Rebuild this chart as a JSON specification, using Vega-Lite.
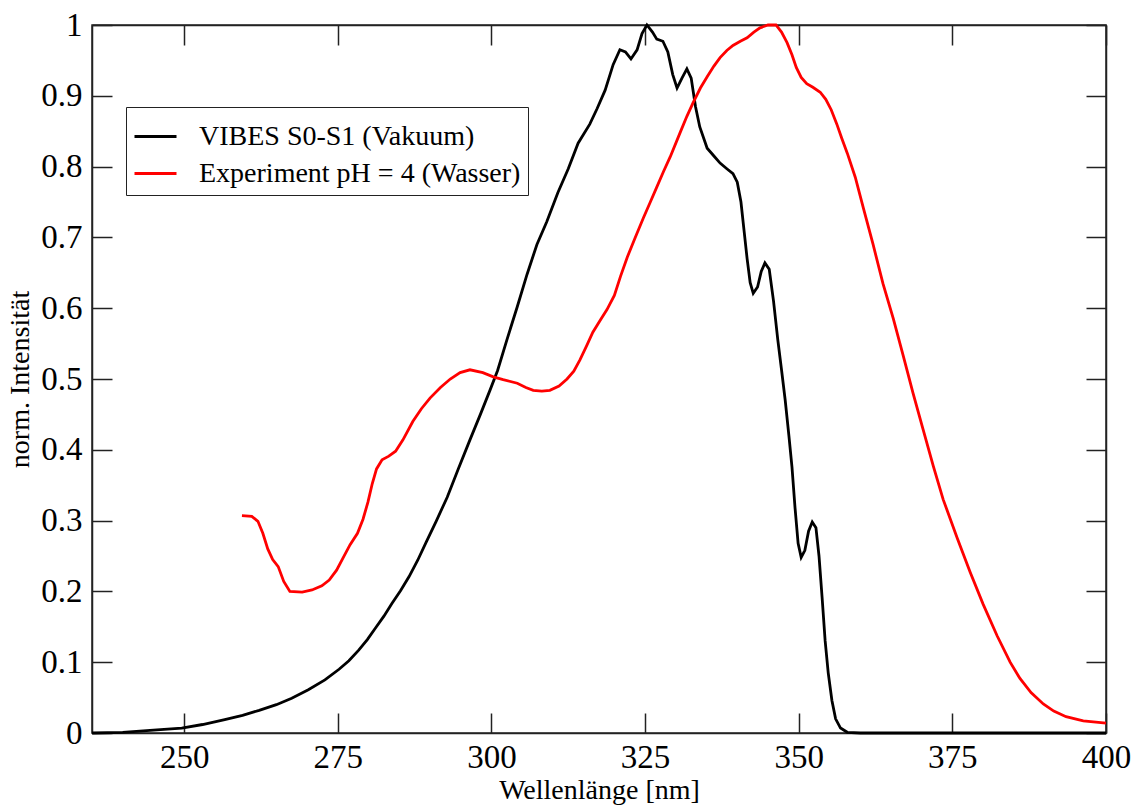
{
  "$schema": "https://vega.github.io/schema/vega-lite/v6.json",
  "width": 1014,
  "height": 708,
  "autosize": {"type": "none"},
  "padding": {"left": 92, "top": 25, "right": 29, "bottom": 72},
  "background": "white",
  "config": {
    "font": "Liberation Serif",
    "view": {"stroke": "#222", "strokeWidth": 1.5},
    "axis": {
      "grid": false,
      "domainColor": "#222",
      "domainWidth": 1.5,
      "tickColor": "#222",
      "tickWidth": 1.5,
      "tickSize": -20,
      "labelFont": "Liberation Serif",
      "labelFontSize": 33,
      "labelColor": "#000",
      "labelFlush": false,
      "labelOverlap": false,
      "titleFont": "Liberation Serif",
      "titleFontSize": 28,
      "titleFontWeight": "normal",
      "titleColor": "#000"
    },
    "style": {"guide-label": {"font": "Liberation Serif"}}
  },
  "data": {
    "values": [
      {"series": "VIBES S0-S1 (Vakuum)", "wl": 235, "I": 0.0},
      {"series": "VIBES S0-S1 (Vakuum)", "wl": 240, "I": 0.001},
      {"series": "VIBES S0-S1 (Vakuum)", "wl": 245, "I": 0.004},
      {"series": "VIBES S0-S1 (Vakuum)", "wl": 249.6, "I": 0.007},
      {"series": "VIBES S0-S1 (Vakuum)", "wl": 253, "I": 0.012},
      {"series": "VIBES S0-S1 (Vakuum)", "wl": 256.6, "I": 0.019},
      {"series": "VIBES S0-S1 (Vakuum)", "wl": 259.5, "I": 0.025},
      {"series": "VIBES S0-S1 (Vakuum)", "wl": 262.2, "I": 0.032},
      {"series": "VIBES S0-S1 (Vakuum)", "wl": 265, "I": 0.04},
      {"series": "VIBES S0-S1 (Vakuum)", "wl": 267.5, "I": 0.049},
      {"series": "VIBES S0-S1 (Vakuum)", "wl": 270.2, "I": 0.061},
      {"series": "VIBES S0-S1 (Vakuum)", "wl": 272.9, "I": 0.075},
      {"series": "VIBES S0-S1 (Vakuum)", "wl": 275.2, "I": 0.09},
      {"series": "VIBES S0-S1 (Vakuum)", "wl": 276.8, "I": 0.102},
      {"series": "VIBES S0-S1 (Vakuum)", "wl": 278.4, "I": 0.117},
      {"series": "VIBES S0-S1 (Vakuum)", "wl": 279.8, "I": 0.132},
      {"series": "VIBES S0-S1 (Vakuum)", "wl": 281.1, "I": 0.148},
      {"series": "VIBES S0-S1 (Vakuum)", "wl": 282.5, "I": 0.165},
      {"series": "VIBES S0-S1 (Vakuum)", "wl": 283.8, "I": 0.183},
      {"series": "VIBES S0-S1 (Vakuum)", "wl": 285.2, "I": 0.201},
      {"series": "VIBES S0-S1 (Vakuum)", "wl": 286.6, "I": 0.221},
      {"series": "VIBES S0-S1 (Vakuum)", "wl": 288.0, "I": 0.244},
      {"series": "VIBES S0-S1 (Vakuum)", "wl": 289.4, "I": 0.27},
      {"series": "VIBES S0-S1 (Vakuum)", "wl": 291.0, "I": 0.299},
      {"series": "VIBES S0-S1 (Vakuum)", "wl": 292.8, "I": 0.333},
      {"series": "VIBES S0-S1 (Vakuum)", "wl": 294.6, "I": 0.373},
      {"series": "VIBES S0-S1 (Vakuum)", "wl": 296.5, "I": 0.414},
      {"series": "VIBES S0-S1 (Vakuum)", "wl": 298.2, "I": 0.45},
      {"series": "VIBES S0-S1 (Vakuum)", "wl": 299.8, "I": 0.485},
      {"series": "VIBES S0-S1 (Vakuum)", "wl": 301.0, "I": 0.512},
      {"series": "VIBES S0-S1 (Vakuum)", "wl": 302.5, "I": 0.555},
      {"series": "VIBES S0-S1 (Vakuum)", "wl": 304.2, "I": 0.602},
      {"series": "VIBES S0-S1 (Vakuum)", "wl": 305.8, "I": 0.648},
      {"series": "VIBES S0-S1 (Vakuum)", "wl": 307.4, "I": 0.69},
      {"series": "VIBES S0-S1 (Vakuum)", "wl": 309.0, "I": 0.722},
      {"series": "VIBES S0-S1 (Vakuum)", "wl": 310.8, "I": 0.763},
      {"series": "VIBES S0-S1 (Vakuum)", "wl": 312.5, "I": 0.797},
      {"series": "VIBES S0-S1 (Vakuum)", "wl": 314.1, "I": 0.833},
      {"series": "VIBES S0-S1 (Vakuum)", "wl": 316.0, "I": 0.86},
      {"series": "VIBES S0-S1 (Vakuum)", "wl": 317.2, "I": 0.882},
      {"series": "VIBES S0-S1 (Vakuum)", "wl": 318.5, "I": 0.908},
      {"series": "VIBES S0-S1 (Vakuum)", "wl": 319.8, "I": 0.944},
      {"series": "VIBES S0-S1 (Vakuum)", "wl": 320.9, "I": 0.965},
      {"series": "VIBES S0-S1 (Vakuum)", "wl": 321.8, "I": 0.962},
      {"series": "VIBES S0-S1 (Vakuum)", "wl": 322.7, "I": 0.952},
      {"series": "VIBES S0-S1 (Vakuum)", "wl": 323.7, "I": 0.965},
      {"series": "VIBES S0-S1 (Vakuum)", "wl": 324.5, "I": 0.988},
      {"series": "VIBES S0-S1 (Vakuum)", "wl": 325.3, "I": 1.0},
      {"series": "VIBES S0-S1 (Vakuum)", "wl": 326.2, "I": 0.99},
      {"series": "VIBES S0-S1 (Vakuum)", "wl": 326.9, "I": 0.98},
      {"series": "VIBES S0-S1 (Vakuum)", "wl": 327.9, "I": 0.977},
      {"series": "VIBES S0-S1 (Vakuum)", "wl": 328.7, "I": 0.962},
      {"series": "VIBES S0-S1 (Vakuum)", "wl": 329.5, "I": 0.93},
      {"series": "VIBES S0-S1 (Vakuum)", "wl": 330.2, "I": 0.911},
      {"series": "VIBES S0-S1 (Vakuum)", "wl": 331.0, "I": 0.925},
      {"series": "VIBES S0-S1 (Vakuum)", "wl": 331.8, "I": 0.938},
      {"series": "VIBES S0-S1 (Vakuum)", "wl": 332.5, "I": 0.925},
      {"series": "VIBES S0-S1 (Vakuum)", "wl": 333.2, "I": 0.885},
      {"series": "VIBES S0-S1 (Vakuum)", "wl": 333.9, "I": 0.856},
      {"series": "VIBES S0-S1 (Vakuum)", "wl": 335.1, "I": 0.826},
      {"series": "VIBES S0-S1 (Vakuum)", "wl": 336.2, "I": 0.815},
      {"series": "VIBES S0-S1 (Vakuum)", "wl": 337.2, "I": 0.805},
      {"series": "VIBES S0-S1 (Vakuum)", "wl": 338.3, "I": 0.797},
      {"series": "VIBES S0-S1 (Vakuum)", "wl": 339.3, "I": 0.79},
      {"series": "VIBES S0-S1 (Vakuum)", "wl": 340.0, "I": 0.778},
      {"series": "VIBES S0-S1 (Vakuum)", "wl": 340.6, "I": 0.75},
      {"series": "VIBES S0-S1 (Vakuum)", "wl": 341.1, "I": 0.71},
      {"series": "VIBES S0-S1 (Vakuum)", "wl": 341.6, "I": 0.67},
      {"series": "VIBES S0-S1 (Vakuum)", "wl": 342.1, "I": 0.636},
      {"series": "VIBES S0-S1 (Vakuum)", "wl": 342.6, "I": 0.621},
      {"series": "VIBES S0-S1 (Vakuum)", "wl": 343.3, "I": 0.63},
      {"series": "VIBES S0-S1 (Vakuum)", "wl": 343.9, "I": 0.652},
      {"series": "VIBES S0-S1 (Vakuum)", "wl": 344.5, "I": 0.664},
      {"series": "VIBES S0-S1 (Vakuum)", "wl": 345.2, "I": 0.655},
      {"series": "VIBES S0-S1 (Vakuum)", "wl": 345.9, "I": 0.61},
      {"series": "VIBES S0-S1 (Vakuum)", "wl": 346.6, "I": 0.555},
      {"series": "VIBES S0-S1 (Vakuum)", "wl": 347.2, "I": 0.513},
      {"series": "VIBES S0-S1 (Vakuum)", "wl": 347.8, "I": 0.47},
      {"series": "VIBES S0-S1 (Vakuum)", "wl": 348.4, "I": 0.42},
      {"series": "VIBES S0-S1 (Vakuum)", "wl": 348.9, "I": 0.376},
      {"series": "VIBES S0-S1 (Vakuum)", "wl": 349.4, "I": 0.318},
      {"series": "VIBES S0-S1 (Vakuum)", "wl": 349.9, "I": 0.268},
      {"series": "VIBES S0-S1 (Vakuum)", "wl": 350.4, "I": 0.248},
      {"series": "VIBES S0-S1 (Vakuum)", "wl": 351.0, "I": 0.258},
      {"series": "VIBES S0-S1 (Vakuum)", "wl": 351.6, "I": 0.285},
      {"series": "VIBES S0-S1 (Vakuum)", "wl": 352.2, "I": 0.298},
      {"series": "VIBES S0-S1 (Vakuum)", "wl": 352.8, "I": 0.29},
      {"series": "VIBES S0-S1 (Vakuum)", "wl": 353.3, "I": 0.25},
      {"series": "VIBES S0-S1 (Vakuum)", "wl": 353.8, "I": 0.192},
      {"series": "VIBES S0-S1 (Vakuum)", "wl": 354.3, "I": 0.13},
      {"series": "VIBES S0-S1 (Vakuum)", "wl": 354.8, "I": 0.085},
      {"series": "VIBES S0-S1 (Vakuum)", "wl": 355.4, "I": 0.046},
      {"series": "VIBES S0-S1 (Vakuum)", "wl": 356.0, "I": 0.02},
      {"series": "VIBES S0-S1 (Vakuum)", "wl": 356.8, "I": 0.007},
      {"series": "VIBES S0-S1 (Vakuum)", "wl": 357.9, "I": 0.001},
      {"series": "VIBES S0-S1 (Vakuum)", "wl": 360, "I": 0.0},
      {"series": "VIBES S0-S1 (Vakuum)", "wl": 400, "I": 0.0},
      {"series": "Experiment pH = 4 (Wasser)", "wl": 259.4, "I": 0.307},
      {"series": "Experiment pH = 4 (Wasser)", "wl": 261.0, "I": 0.306},
      {"series": "Experiment pH = 4 (Wasser)", "wl": 262.0, "I": 0.299},
      {"series": "Experiment pH = 4 (Wasser)", "wl": 262.8, "I": 0.282},
      {"series": "Experiment pH = 4 (Wasser)", "wl": 263.6, "I": 0.26},
      {"series": "Experiment pH = 4 (Wasser)", "wl": 264.4, "I": 0.245},
      {"series": "Experiment pH = 4 (Wasser)", "wl": 265.3, "I": 0.235},
      {"series": "Experiment pH = 4 (Wasser)", "wl": 266.2, "I": 0.214},
      {"series": "Experiment pH = 4 (Wasser)", "wl": 267.2, "I": 0.2},
      {"series": "Experiment pH = 4 (Wasser)", "wl": 269.2, "I": 0.199},
      {"series": "Experiment pH = 4 (Wasser)", "wl": 270.8, "I": 0.202},
      {"series": "Experiment pH = 4 (Wasser)", "wl": 272.4, "I": 0.208},
      {"series": "Experiment pH = 4 (Wasser)", "wl": 273.6, "I": 0.216},
      {"series": "Experiment pH = 4 (Wasser)", "wl": 274.8, "I": 0.23},
      {"series": "Experiment pH = 4 (Wasser)", "wl": 275.9, "I": 0.248},
      {"series": "Experiment pH = 4 (Wasser)", "wl": 277.0, "I": 0.266},
      {"series": "Experiment pH = 4 (Wasser)", "wl": 278.2, "I": 0.282},
      {"series": "Experiment pH = 4 (Wasser)", "wl": 279.1, "I": 0.302},
      {"series": "Experiment pH = 4 (Wasser)", "wl": 279.9, "I": 0.326},
      {"series": "Experiment pH = 4 (Wasser)", "wl": 280.6, "I": 0.352},
      {"series": "Experiment pH = 4 (Wasser)", "wl": 281.3, "I": 0.373},
      {"series": "Experiment pH = 4 (Wasser)", "wl": 282.2, "I": 0.386},
      {"series": "Experiment pH = 4 (Wasser)", "wl": 283.3, "I": 0.391},
      {"series": "Experiment pH = 4 (Wasser)", "wl": 284.4, "I": 0.398},
      {"series": "Experiment pH = 4 (Wasser)", "wl": 285.6, "I": 0.414},
      {"series": "Experiment pH = 4 (Wasser)", "wl": 287.2, "I": 0.44},
      {"series": "Experiment pH = 4 (Wasser)", "wl": 288.6, "I": 0.458},
      {"series": "Experiment pH = 4 (Wasser)", "wl": 290.0, "I": 0.473},
      {"series": "Experiment pH = 4 (Wasser)", "wl": 291.7, "I": 0.488},
      {"series": "Experiment pH = 4 (Wasser)", "wl": 293.3, "I": 0.5},
      {"series": "Experiment pH = 4 (Wasser)", "wl": 294.9, "I": 0.509},
      {"series": "Experiment pH = 4 (Wasser)", "wl": 296.5, "I": 0.513},
      {"series": "Experiment pH = 4 (Wasser)", "wl": 298.6, "I": 0.509},
      {"series": "Experiment pH = 4 (Wasser)", "wl": 300.3, "I": 0.503},
      {"series": "Experiment pH = 4 (Wasser)", "wl": 301.9, "I": 0.499},
      {"series": "Experiment pH = 4 (Wasser)", "wl": 304.2, "I": 0.494},
      {"series": "Experiment pH = 4 (Wasser)", "wl": 305.6, "I": 0.488},
      {"series": "Experiment pH = 4 (Wasser)", "wl": 306.8, "I": 0.484},
      {"series": "Experiment pH = 4 (Wasser)", "wl": 308.2, "I": 0.483},
      {"series": "Experiment pH = 4 (Wasser)", "wl": 309.5, "I": 0.484},
      {"series": "Experiment pH = 4 (Wasser)", "wl": 311.0, "I": 0.49},
      {"series": "Experiment pH = 4 (Wasser)", "wl": 312.3, "I": 0.5},
      {"series": "Experiment pH = 4 (Wasser)", "wl": 313.4, "I": 0.511},
      {"series": "Experiment pH = 4 (Wasser)", "wl": 314.4, "I": 0.527},
      {"series": "Experiment pH = 4 (Wasser)", "wl": 315.5, "I": 0.547},
      {"series": "Experiment pH = 4 (Wasser)", "wl": 316.5, "I": 0.566},
      {"series": "Experiment pH = 4 (Wasser)", "wl": 317.7, "I": 0.583},
      {"series": "Experiment pH = 4 (Wasser)", "wl": 318.8, "I": 0.598},
      {"series": "Experiment pH = 4 (Wasser)", "wl": 320.0, "I": 0.618},
      {"series": "Experiment pH = 4 (Wasser)", "wl": 321.0, "I": 0.645},
      {"series": "Experiment pH = 4 (Wasser)", "wl": 322.1, "I": 0.672},
      {"series": "Experiment pH = 4 (Wasser)", "wl": 323.4, "I": 0.7},
      {"series": "Experiment pH = 4 (Wasser)", "wl": 324.7, "I": 0.727},
      {"series": "Experiment pH = 4 (Wasser)", "wl": 325.8, "I": 0.749},
      {"series": "Experiment pH = 4 (Wasser)", "wl": 326.9, "I": 0.771},
      {"series": "Experiment pH = 4 (Wasser)", "wl": 328.0, "I": 0.793},
      {"series": "Experiment pH = 4 (Wasser)", "wl": 329.1, "I": 0.814},
      {"series": "Experiment pH = 4 (Wasser)", "wl": 330.7, "I": 0.848},
      {"series": "Experiment pH = 4 (Wasser)", "wl": 331.8, "I": 0.871},
      {"series": "Experiment pH = 4 (Wasser)", "wl": 332.8, "I": 0.89},
      {"series": "Experiment pH = 4 (Wasser)", "wl": 334.0, "I": 0.911},
      {"series": "Experiment pH = 4 (Wasser)", "wl": 335.1, "I": 0.927},
      {"series": "Experiment pH = 4 (Wasser)", "wl": 336.2, "I": 0.942},
      {"series": "Experiment pH = 4 (Wasser)", "wl": 337.2, "I": 0.954},
      {"series": "Experiment pH = 4 (Wasser)", "wl": 338.3, "I": 0.964},
      {"series": "Experiment pH = 4 (Wasser)", "wl": 339.3, "I": 0.971},
      {"series": "Experiment pH = 4 (Wasser)", "wl": 340.5, "I": 0.977},
      {"series": "Experiment pH = 4 (Wasser)", "wl": 341.6, "I": 0.982},
      {"series": "Experiment pH = 4 (Wasser)", "wl": 342.7, "I": 0.99},
      {"series": "Experiment pH = 4 (Wasser)", "wl": 343.7, "I": 0.996},
      {"series": "Experiment pH = 4 (Wasser)", "wl": 345.0, "I": 1.0},
      {"series": "Experiment pH = 4 (Wasser)", "wl": 346.3, "I": 1.0},
      {"series": "Experiment pH = 4 (Wasser)", "wl": 347.2, "I": 0.99},
      {"series": "Experiment pH = 4 (Wasser)", "wl": 348.1, "I": 0.975},
      {"series": "Experiment pH = 4 (Wasser)", "wl": 348.9, "I": 0.958},
      {"series": "Experiment pH = 4 (Wasser)", "wl": 349.6, "I": 0.94},
      {"series": "Experiment pH = 4 (Wasser)", "wl": 350.4, "I": 0.926},
      {"series": "Experiment pH = 4 (Wasser)", "wl": 351.3, "I": 0.917},
      {"series": "Experiment pH = 4 (Wasser)", "wl": 352.3, "I": 0.912},
      {"series": "Experiment pH = 4 (Wasser)", "wl": 353.5, "I": 0.905},
      {"series": "Experiment pH = 4 (Wasser)", "wl": 354.4, "I": 0.895},
      {"series": "Experiment pH = 4 (Wasser)", "wl": 355.3, "I": 0.88},
      {"series": "Experiment pH = 4 (Wasser)", "wl": 356.2, "I": 0.86},
      {"series": "Experiment pH = 4 (Wasser)", "wl": 357.0, "I": 0.84},
      {"series": "Experiment pH = 4 (Wasser)", "wl": 357.9, "I": 0.819},
      {"series": "Experiment pH = 4 (Wasser)", "wl": 359.2, "I": 0.785},
      {"series": "Experiment pH = 4 (Wasser)", "wl": 360.5, "I": 0.742},
      {"series": "Experiment pH = 4 (Wasser)", "wl": 362.1, "I": 0.69},
      {"series": "Experiment pH = 4 (Wasser)", "wl": 363.7, "I": 0.635},
      {"series": "Experiment pH = 4 (Wasser)", "wl": 365.4, "I": 0.585},
      {"series": "Experiment pH = 4 (Wasser)", "wl": 367.0, "I": 0.533},
      {"series": "Experiment pH = 4 (Wasser)", "wl": 368.6, "I": 0.48},
      {"series": "Experiment pH = 4 (Wasser)", "wl": 370.2, "I": 0.43},
      {"series": "Experiment pH = 4 (Wasser)", "wl": 371.9, "I": 0.377},
      {"series": "Experiment pH = 4 (Wasser)", "wl": 373.5, "I": 0.33},
      {"series": "Experiment pH = 4 (Wasser)", "wl": 375.8, "I": 0.275},
      {"series": "Experiment pH = 4 (Wasser)", "wl": 377.9, "I": 0.227},
      {"series": "Experiment pH = 4 (Wasser)", "wl": 380.0, "I": 0.182},
      {"series": "Experiment pH = 4 (Wasser)", "wl": 382.3, "I": 0.137},
      {"series": "Experiment pH = 4 (Wasser)", "wl": 384.4, "I": 0.1},
      {"series": "Experiment pH = 4 (Wasser)", "wl": 386.0, "I": 0.077},
      {"series": "Experiment pH = 4 (Wasser)", "wl": 387.8, "I": 0.057},
      {"series": "Experiment pH = 4 (Wasser)", "wl": 389.8, "I": 0.041},
      {"series": "Experiment pH = 4 (Wasser)", "wl": 391.5, "I": 0.031},
      {"series": "Experiment pH = 4 (Wasser)", "wl": 393.5, "I": 0.023},
      {"series": "Experiment pH = 4 (Wasser)", "wl": 396.3, "I": 0.017},
      {"series": "Experiment pH = 4 (Wasser)", "wl": 400.0, "I": 0.014}
    ]
  },
  "layer": [
    {
      "mark": {"type": "line", "strokeWidth": 2.8},
      "encoding": {
        "x": {
          "field": "wl", "type": "quantitative",
          "scale": {"domain": [235, 400], "nice": false, "zero": false},
          "axis": {"orient": "bottom", "values": [250, 275, 300, 325, 350, 375, 400], "title": "Wellenlänge [nm]", "labelPadding": 28, "titlePadding": 2}
        },
        "y": {
          "field": "I", "type": "quantitative",
          "scale": {"domain": [0, 1], "nice": false},
          "axis": {"orient": "left", "values": [0, 0.1, 0.2, 0.3, 0.4, 0.5, 0.6, 0.7, 0.8, 0.9, 1], "format": "~g", "title": "norm. Intensität", "labelPadding": 30, "titlePadding": 6}
        },
        "color": {
          "field": "series", "type": "nominal",
          "scale": {"domain": ["VIBES S0-S1 (Vakuum)", "Experiment pH = 4 (Wasser)"], "range": ["#000000", "#ff0000"]},
          "legend": {
            "title": null,
            "orient": "none",
            "legendX": 34,
            "legendY": 82,
            "strokeColor": "#222",
            "fillColor": "white",
            "padding": 7,
            "symbolType": "stroke",
            "symbolSize": 1764,
            "symbolStrokeWidth": 2.8,
            "labelFont": "Liberation Serif",
            "labelFontSize": 28,
            "labelColor": "#000",
            "labelOffset": 21,
            "labelLimit": 0,
            "rowPadding": -4
          }
        }
      }
    },
    {
      "mark": {"type": "line", "strokeOpacity": 0},
      "encoding": {
        "x": {
          "field": "wl", "type": "quantitative",
          "scale": {"domain": [235, 400], "nice": false, "zero": false},
          "axis": {"orient": "top", "values": [250, 275, 300, 325, 350, 375, 400], "labels": false, "title": null}
        },
        "y": {
          "field": "I", "type": "quantitative",
          "scale": {"domain": [0, 1], "nice": false},
          "axis": {"orient": "right", "values": [0, 0.1, 0.2, 0.3, 0.4, 0.5, 0.6, 0.7, 0.8, 0.9, 1], "labels": false, "title": null}
        },
        "detail": {"field": "series", "type": "nominal"}
      }
    }
  ],
  "resolve": {"axis": {"x": "independent", "y": "independent"}}
}
